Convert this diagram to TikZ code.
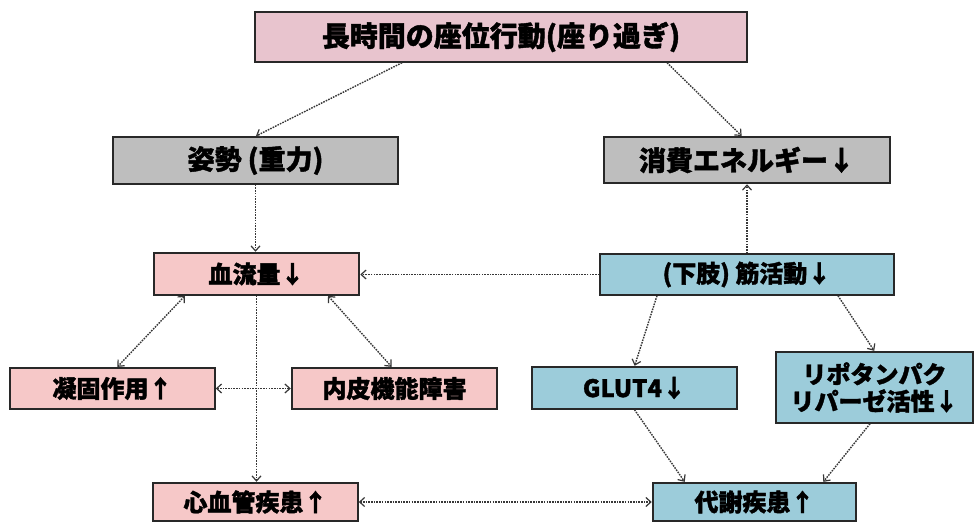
\documentclass[tikz,border=0pt]{standalone}
\usepackage{fontspec}
\setmainfont{Noto Sans CJK JP}[BoldFeatures={FakeBold=1.5}]
\usetikzlibrary{arrows.meta,calc}
\definecolor{toppink}{RGB}{232,196,206}
\definecolor{boxpink}{RGB}{246,200,200}
\definecolor{boxgray}{RGB}{190,190,190}
\definecolor{boxblue}{RGB}{156,204,218}
\definecolor{edge}{RGB}{40,40,40}
\definecolor{conn}{RGB}{55,55,55}
\tikzset{
  box/.style={draw=edge,line width=1.5pt,rectangle,inner sep=0pt,align=center,font=\bfseries\fontsize{24}{27}\selectfont},
  link/.style={draw=conn,dash pattern=on 1.6pt off 1.1pt,line width=1.4pt,-{Straight Barb[length=5pt,width=9pt,line width=1.2pt]},shorten >=0.5pt},
  blink/.style={link,{Straight Barb[length=5pt,width=9pt,line width=1.2pt]}-{Straight Barb[length=5pt,width=9pt,line width=1.2pt]}}
}
\begin{document}
\begin{tikzpicture}[x=1pt,y=-1pt]
\fill[white] (0,0) rectangle (975,524);
\useasboundingbox (0,0) rectangle (975,524);
\node[box,fill=toppink,minimum width=492pt,minimum height=50pt,font=\bfseries\fontsize{28}{30}\selectfont] (top) at (501,37) {長時間の座位行動(座り過ぎ)};
\node[box,fill=boxgray,minimum width=285pt,minimum height=47pt,font=\bfseries\fontsize{27}{30}\selectfont] (pos) at (255.5,160.5) {姿勢 (重力)};
\node[box,fill=boxgray,minimum width=286pt,minimum height=46pt,font=\bfseries\fontsize{27}{30}\selectfont] (ene) at (747,160) {消費エネルギー↓};
\node[box,fill=boxpink,minimum width=205pt,minimum height=42pt] (blood) at (256.5,274) {血流量↓};
\node[box,fill=boxblue,minimum width=294pt,minimum height=41pt] (mus) at (747,274.5) {(下肢) 筋活動↓};
\node[box,fill=boxpink,minimum width=205pt,minimum height=41pt] (coag) at (112.5,388.5) {凝固作用↑};
\node[box,fill=boxpink,minimum width=205pt,minimum height=41pt] (endo) at (394.5,388.5) {内皮機能障害};
\node[box,fill=boxblue,minimum width=205pt,minimum height=42pt] (glut) at (634.5,388) {GLUT4↓};
\node[box,fill=boxblue,minimum width=197pt,minimum height=71pt] (lipo) at (874.5,387.5) {リポタンパク\\リパーゼ活性↓};
\node[box,fill=boxpink,minimum width=205pt,minimum height=38pt] (cvd) at (255.5,502) {心血管疾患↑};
\node[box,fill=boxblue,minimum width=203pt,minimum height=38pt] (meta) at (754.5,502) {代謝疾患↑};

\draw[link] ([xshift=-99pt]top.south) -- (pos.north);
\draw[link] ([xshift=166pt]top.south) -- ([xshift=-5pt]ene.north);
\draw[link] (pos.south) -- (pos.south |- blood.north);
\draw[link] (mus.north) -- (ene.south);
\draw[link] (mus.west) -- (mus.west -| blood.east);
\draw[blink] ([xshift=-71.5pt]blood.south) -- ([xshift=4.5pt]coag.north);
\draw[blink] ([xshift=71.5pt]blood.south) -- ([xshift=-2.5pt]endo.north);
\draw[blink] (coag.east) -- (endo.west);
\draw[link] (blood.south) -- (blood.south |- cvd.north);
\draw[link] ([xshift=-90pt]mus.south) -- (glut.north);
\draw[link] ([xshift=91pt]mus.south) -- (lipo.north);
\draw[link] (glut.south) -- ([xshift=-69.5pt]meta.north);
\draw[link] ([xshift=-4.5pt]lipo.south) -- ([xshift=68.5pt]meta.north);
\draw[blink] (cvd.east) -- (cvd.east -| meta.west);
\end{tikzpicture}
\end{document}
